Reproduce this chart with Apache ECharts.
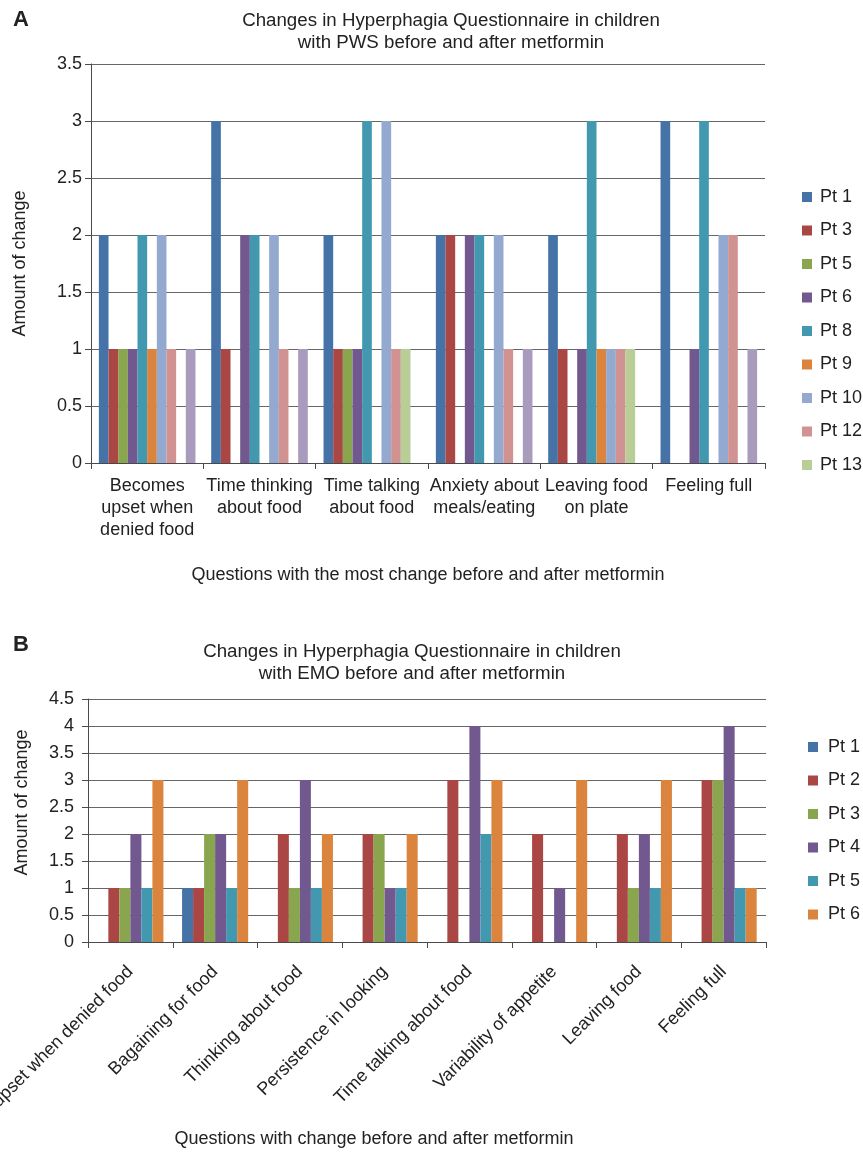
<!DOCTYPE html>
<html>
<head>
<meta charset="utf-8">
<script src="https://cdn.jsdelivr.net/npm/echarts@6/dist/echarts.min.js"></script>
<style>
  html, body { margin: 0; padding: 0; background: #fff; }
  #a { position: absolute; left: 0; top: 0; width: 863px; height: 590px; }
  #b { position: absolute; left: 0; top: 590px; width: 863px; height: 562px; }
</style>
</head>
<body>
<div id="a"></div>
<div id="b"></div>
<script>
// ---------- Panel A data ----------
const categoriesA = [
  'Becomes\nupset when\ndenied food',
  'Time thinking\nabout food',
  'Time talking\nabout food',
  'Anxiety about\nmeals/eating',
  'Leaving food\non plate',
  'Feeling full'
];
const seriesNamesA = ['Pt 1', 'Pt 3', 'Pt 5', 'Pt 6', 'Pt 8', 'Pt 9', 'Pt 10', 'Pt 12', 'Pt 13', 'Pt 14'];
const legendNamesA = ['Pt 1', 'Pt 3', 'Pt 5', 'Pt 6', 'Pt 8', 'Pt 9', 'Pt 10', 'Pt 12', 'Pt 13'];
const pt1A  = [2, 3, 2, 2, 2, 3];
const pt3A  = [1, 1, 1, 2, 1, 0];
const pt5A  = [1, 0, 1, 0, 0, 0];
const pt6A  = [1, 2, 1, 2, 1, 1];
const pt8A  = [2, 2, 3, 2, 3, 3];
const pt9A  = [1, 0, 0, 0, 1, 0];
const pt10A = [2, 2, 3, 2, 1, 2];
const pt12A = [1, 1, 1, 1, 1, 2];
const pt13A = [0, 0, 1, 0, 1, 0];
const pt14A = [1, 1, 0, 1, 0, 1];
const valuesA = [pt1A, pt3A, pt5A, pt6A, pt8A, pt9A, pt10A, pt12A, pt13A, pt14A];
const yTicksA = { min: 0, max: 3.5, interval: 0.5 };

// ---------- Panel B data ----------
const categoriesB = [
  'Becomes upset when denied food',
  'Bagaining for food',
  'Thinking about food',
  'Persistence in looking',
  'Time talking about food',
  'Variability of appetite',
  'Leaving food',
  'Feeling full'
];
const seriesNamesB = ['Pt 1', 'Pt 2', 'Pt 3', 'Pt 4', 'Pt 5', 'Pt 6'];
const pt1B = [0, 1, 0, 0, 0, 0, 0, 0];
const pt2B = [1, 1, 2, 2, 3, 2, 2, 3];
const pt3B = [1, 2, 1, 2, 0, 0, 1, 3];
const pt4B = [2, 2, 3, 1, 4, 1, 2, 4];
const pt5B = [1, 1, 1, 1, 2, 0, 1, 1];
const pt6B = [3, 3, 2, 2, 3, 3, 3, 1];
const valuesB = [pt1B, pt2B, pt3B, pt4B, pt5B, pt6B];
const yTicksB = { min: 0, max: 4.5, interval: 0.5 };

const palette = ['#4572A7', '#AA4643', '#89A54E', '#71588F', '#4198AF', '#DB843D', '#93A9CF', '#D19392', '#B9CD96', '#A99BBD'];

const FONT = 'Liberation Sans, Arial, sans-serif';
const TXT = '#222222';
const AXIS = '#4a4a4a';
const GRID = '#666666';

function yAxisCfg(t, gap, pad, margin) {
  return {
    type: 'value', min: t.min, max: t.max, interval: t.interval,
    name: 'Amount of change', nameLocation: 'middle', nameGap: gap, nameMoveOverlap: false,
    nameTextStyle: { fontFamily: FONT, fontSize: 18, color: TXT, lineHeight: 22, padding: pad },
    axisLine: { show: true, lineStyle: { color: AXIS, width: 1 } },
    axisTick: { show: true, length: 6, inside: false, lineStyle: { color: AXIS } },
    axisLabel: { fontFamily: FONT, fontSize: 18, color: TXT, margin: margin },
    splitLine: { show: true, lineStyle: { color: GRID, width: 1 } }
  };
}

// ---------- Chart A ----------
const chartA = echarts.init(document.getElementById('a'), null, { renderer: 'canvas' });
chartA.setOption({
  animation: false,
  color: palette,
  graphic: [{ type: 'text', left: 13, top: 9, style: { text: 'A', font: 'bold 22px ' + FONT, fill: '#222' } }],
  title: {
    text: 'Changes in Hyperphagia Questionnaire in children\nwith PWS before and after metformin',
    left: 446, top: 5, textAlign: 'center',
    textStyle: { fontFamily: FONT, fontSize: 18.7, fontWeight: 'normal', color: TXT, lineHeight: 22 }
  },
  legend: {
    data: legendNamesA, orient: 'vertical', left: 797, top: 182,
    icon: 'rect', itemWidth: 10, itemHeight: 10, itemGap: 13.5,
    textStyle: { fontFamily: FONT, fontSize: 18, color: TXT, lineHeight: 20, padding: [0, 0, 0, 3] }
  },
  grid: { left: 91, right: 98, top: 64, bottom: 127, outerBoundsMode: 'none', containLabel: false },
  xAxis: {
    type: 'category', data: categoriesA,
    name: 'Questions with the most change before and after metformin',
    nameLocation: 'middle', nameGap: 101, nameMoveOverlap: false,
    nameTextStyle: { fontFamily: FONT, fontSize: 18, color: TXT, lineHeight: 22 },
    axisLine: { lineStyle: { color: AXIS, width: 1 } },
    axisTick: { show: true, length: 6, lineStyle: { color: AXIS } },
    axisLabel: { interval: 0, fontFamily: FONT, fontSize: 18, color: TXT, lineHeight: 22, margin: 12 }
  },
  yAxis: yAxisCfg(yTicksA, 60, [0, 0, 0, 0], 9),
  series: seriesNamesA.map((n, i) => ({
    name: n, type: 'bar', data: valuesA[i], barGap: '0%', barCategoryGap: '14%'
  }))
});

// ---------- Chart B ----------
const chartB = echarts.init(document.getElementById('b'), null, { renderer: 'canvas' });
chartB.setOption({
  animation: false,
  color: palette,
  graphic: [{ type: 'text', left: 13, top: 44, style: { text: 'B', font: 'bold 22px ' + FONT, fill: '#222' } }],
  title: {
    text: 'Changes in Hyperphagia Questionnaire in children\nwith EMO before and after metformin',
    left: 407, top: 46, textAlign: 'center',
    textStyle: { fontFamily: FONT, fontSize: 18.7, fontWeight: 'normal', color: TXT, lineHeight: 22 }
  },
  legend: {
    data: seriesNamesB, orient: 'vertical', left: 803, top: 142,
    icon: 'rect', itemWidth: 10, itemHeight: 10, itemGap: 13.5,
    textStyle: { fontFamily: FONT, fontSize: 18, color: TXT, lineHeight: 20, padding: [0, 0, 0, 5] }
  },
  grid: { left: 88, right: 97, top: 109, bottom: 210, outerBoundsMode: 'none', containLabel: false },
  xAxis: {
    type: 'category', data: categoriesB,
    name: 'Questions with change before and after metformin',
    nameLocation: 'middle', nameGap: 186, nameMoveOverlap: false,
    nameTextStyle: { fontFamily: FONT, fontSize: 18, color: TXT, lineHeight: 22, padding: [0, 106, 0, 0] },
    axisLine: { lineStyle: { color: AXIS, width: 1 } },
    axisTick: { show: true, length: 6, lineStyle: { color: AXIS } },
    axisLabel: { interval: 0, rotate: 45, fontFamily: FONT, fontSize: 18, color: TXT, margin: 27 }
  },
  yAxis: yAxisCfg(yTicksB, 55, [0, 0, 0, 36], 14),
  series: seriesNamesB.map((n, i) => ({
    name: n, type: 'bar', data: valuesB[i], barGap: '0%', barCategoryGap: '22%'
  }))
});
</script>
</body>
</html>
